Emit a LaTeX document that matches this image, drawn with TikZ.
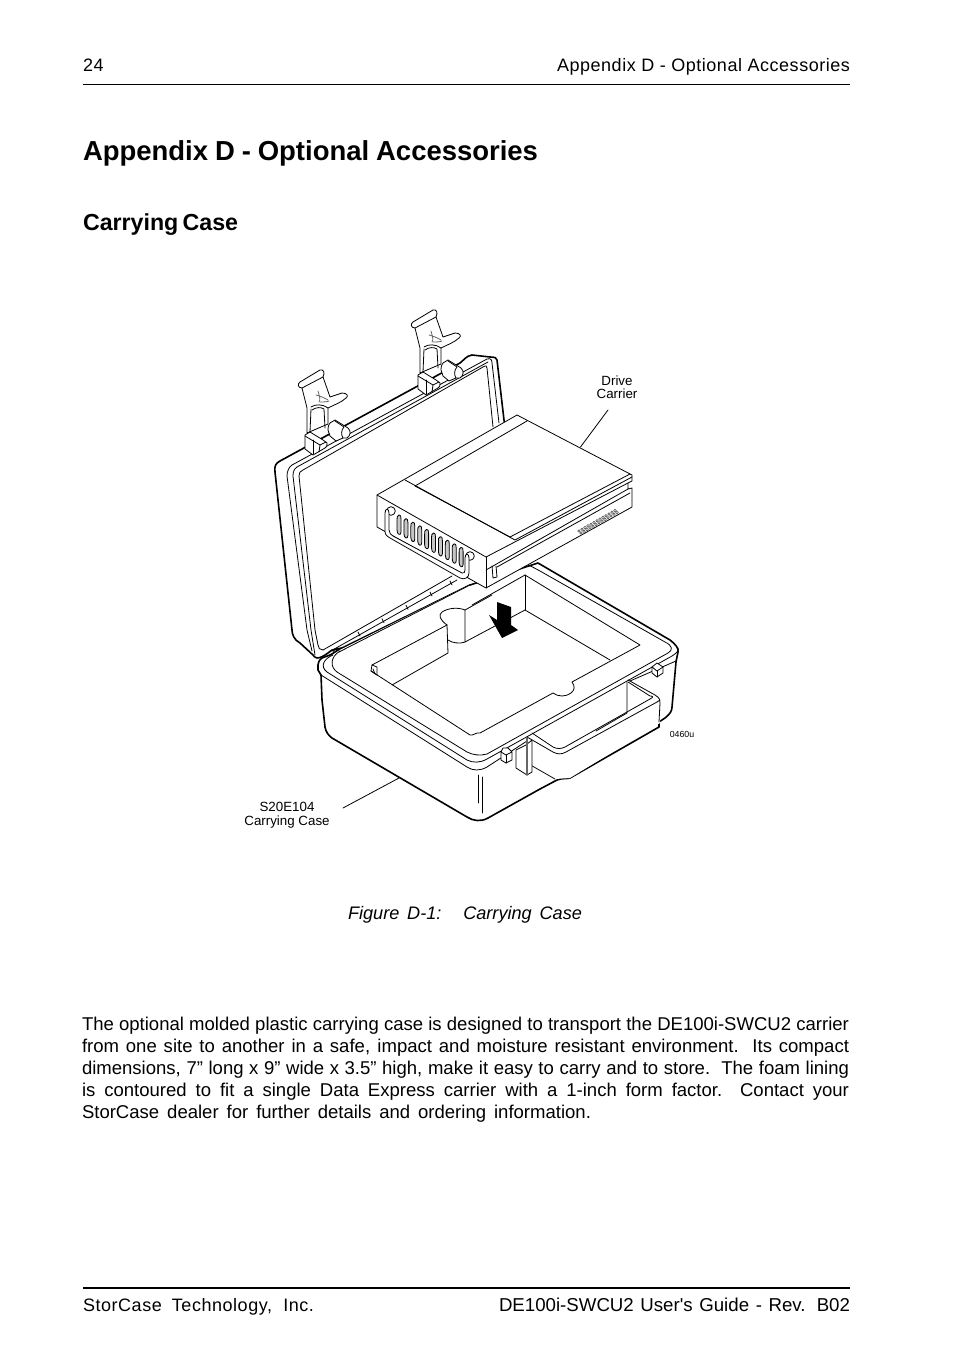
\documentclass[tikz,border=0pt]{standalone}
\usepackage{fontspec}
\setmainfont{Liberation Sans}
\newfontfamily\nomap{Liberation Sans}
\usetikzlibrary{calc}
\newcommand{\FS}[1]{\fontsize{#1}{#1}\selectfont}
\newcommand{\JL}[2]{\makebox[\dimexpr #1pt*3/4\relax][s]{#2}}
\tikzset{
  ln/.style={draw=black,line width=0.6pt,line join=round,line cap=round},
  thk/.style={draw=black,line width=1.2pt,line join=round,line cap=round},
  wf/.style={fill=white},
  txt/.style={anchor=base west,inner sep=0pt,outer sep=0pt},
  lbl/.style={anchor=base,inner sep=0pt,outer sep=0pt,font=\FS{10}},
  body/.style={txt,font=\FS{13.9}},
  head/.style={txt,font=\FS{13.5}\addfontfeatures{LetterSpace=3}},
  foot/.style={txt,font=\FS{14}},
  clipline/.pic={
    % arm and body
    \path[ln,wf] (307,433) -- (307,408) -- (302,388) .. controls (298,388) and (297,384) .. (300,382) -- (320,370) .. controls (324,369) and (325,373) .. (323,377) -- (330,397) -- (342,393) .. controls (347,393) and (349,396) .. (346,398) .. controls (342,402) and (334,405) .. (328,408) -- (328,424) -- cycle;
    \path[ln] (302,388) -- (323,377);
    \path[ln] (311,407) .. controls (315,404) and (323,404) .. (328,408);
    \path[ln] (311,409) -- (310,432);
    \path[ln] (312,410) .. controls (316,407) and (321,407) .. (324,409) -- (325,428);
    \path[ln,draw=black!60] (316,395) .. controls (320,396) and (325,398) .. (328,400);
    \path[ln,draw=black!60] (318,391) .. controls (319,395) and (321,400) .. (319,402);
    \path[ln,draw=black!60] (320,402) .. controls (323,402) and (327,402) .. (329,401);
    % knob
    \path[ln,wf] (328,430) .. controls (328,426) and (329,424) .. (330,423) -- (335,420) -- (348,428) .. controls (351,431) and (351,435) .. (347,438) -- (343,438) -- (336,441) -- (330,436) -- cycle;
    \path[ln] (335,421) -- (344,427) .. controls (341,430) and (341,435) .. (343,438);
    % base
    \path[ln,wf] (305,435) -- (310,432) -- (323,440) -- (327,443) .. controls (328,446) and (326,447) .. (325,448) -- (313,455) -- (305,449) -- cycle;
    \path[ln] (305,436) -- (320,445) -- (326,442);
    \path[ln] (320,445) -- (319,452);
    \path[ln] (313,440) -- (313,454);
  }
}
\begin{document}
\begin{tikzpicture}[x=0.75pt,y=-0.75pt]
\useasboundingbox (0,0) rectangle (954,1369);
\fill[white] (0,0) rectangle (954,1369);

% page furniture
\node[head] (pg) at (83,72) {24};
\node[head] (rh) at (557,72) {\JL{293}{Appendix D - Optional Accessories}};
\draw[line width=0.6pt] (83,84) coordinate (hrA) -- (850,84) coordinate (hrB);
\node[txt,font=\FS{20.6}\bfseries] (h1) at (83,161) {\JL{455}{Appendix D - Optional Accessories}};
\node[txt,font=\FS{17.4}\bfseries] (h2) at (83,231) {\JL{155}{Carrying Case}};
\node[txt,font=\FS{13.6}\itshape] (cap) at (348,919) {\JL{234}{Figure\ \ D-1:\hspace{1.2em}Carrying\ \ Case}};
\node[body] (b1) at (82,1030) {\JL{767}{The optional molded plastic carrying case is designed to transport the DE100i-SWCU2 carrier}};
\node[body] (b2) at (82,1052) {\JL{767}{from one site to another in a safe, impact and moisture resistant environment.\ \ Its compact}};
\node[body] (b3) at (82,1074) {\JL{767}{dimensions, 7” long x 9” wide x 3.5” high, make it easy to carry and to store.\ \ The foam lining}};
\node[body] (b4) at (82,1096) {\JL{767}{is contoured to fit a single Data Express carrier with a 1-inch form factor.\ \ Contact your}};
\node[body] (b5) at (82,1118) {\JL{509}{StorCase dealer for further details and ordering information.}};
\draw[line width=1.2pt] (83,1288) coordinate (frA) -- (850,1288) coordinate (frB);
\node[head] (fl) at (83,1311) {\JL{231}{StorCase Technology, Inc.}};
\node[foot] (fr) at (499,1311) {\JL{351}{DE100i-SWCU2 {\nomap User's} Guide - Rev. B02}};

% lid
\path[thk,wf] (332,650) -- (328,653) .. controls (324,656) and (320,658) .. (317,658) .. controls (315,658) and (314,656) .. (313,655) -- (300,643) .. controls (294,640) and (292,634) .. (292,630) -- (275,472) .. controls (274,466) and (276,463) .. (280,461) -- (460,363) .. controls (464,360) and (466,356) .. (472,355) -- (490,357) .. controls (495,357) and (497,358) .. (497,360) -- (504,420) -- (520,500) -- (480,620) -- cycle;
\path[ln] (312,651) -- (307,630) -- (287,476) .. controls (287,471) and (289,467) .. (292,465) -- (487,359) .. controls (491,358) and (492,360) .. (492,363) -- (499,423);
\path[ln] (315,655) -- (311,630) -- (293,476) .. controls (293,472) and (294,469) .. (297,467) -- (488,362);
\path[ln] (323,650) .. controls (320,650) and (318,648) .. (318,645) -- (315,630) -- (299,476) .. controls (299,473) and (300,471) .. (303,470) -- (483,367) .. controls (486,365) and (487,366) .. (487,368) -- (493,427);
\path[ln] (323,650) -- (452,576);
\path[ln] (329,652) -- (457,580);
\path[ln] (333,651) -- (338,648) -- (339,652) -- (334,655) -- cycle;
\path[ln] (339,652) -- (470,585);
\foreach \a in {358,382,406,430,450}{
  \path[ln] (\a,{632-(\a-358)*0.555}) -- (\a+2,{636-(\a-358)*0.555});
}

% latch clips
\pic {clipline};
\pic[shift={(113,-60)}] {clipline};

% case body
\path[thk,wf] (321,675) -- (322,700) -- (325,727) .. controls (326,732) and (328,735) .. (332,738) -- (467,817) .. controls (473,821) and (481,822) .. (488,818) -- (540,789) -- (557,780) .. controls (562,778) and (566,779) .. (570,778) -- (659,727) -- (659,722) -- (665,718) .. controls (670,714) and (672,711) .. (672,707) -- (676,662) -- (678,652) .. controls (679,648) and (675,644) .. (670,640) -- (538,563) -- (470,585) -- (338,650) -- (332,654) -- (330,655) -- (322,658) .. controls (319,660) and (318,663) .. (318,665) -- (318,670) -- cycle;
\path[draw=white,line width=1.5pt] (340,651) -- (470,586);
\path[ln] (339,652) -- (470,585);
% carry handle
\path[wf] (527,737) -- (553,752) -- (566,752) -- (628,680) -- (655,695) -- (660,700) -- (660,723) -- (570,778) -- (555,779) -- (527,763) -- cycle;
\path[ln] (527,737) -- (553,752) .. controls (557,754) and (561,755) .. (566,752) -- (657,702);
\path[ln] (628,680) -- (655,695) .. controls (660,698) and (660,700) .. (660,703) -- (659,722);
\path[ln] (657,702) -- (660,700);
\path[ln] (527,763) -- (555,779);
\path[ln] (532,733) -- (553,747) .. controls (557,749) and (561,749) .. (565,747) -- (650,699) .. controls (654,697) and (653,696) .. (650,696) -- (628,682);
\path[ln] (627,682) -- (627,713) -- (596,731);
% rim
\path[ln] (321,675) -- (467,767) .. controls (473,771) and (480,771) .. (487,767) -- (527,741);
\path[ln] (630,681) -- (676,661);
\path[ln] (318,670) -- (321,675);
\path[ln] (333,655) .. controls (325,658) and (319,666) .. (327,672) -- (467,760) .. controls (473,763) and (480,763) .. (487,759) -- (672,656) .. controls (677,653) and (679,650) .. (678,648);
\path[ln] (340,651) .. controls (330,657) and (330,667) .. (337,672) -- (467,752) .. controls (473,755) and (480,756) .. (487,754) -- (668,653) .. controls (673,650) and (673,646) .. (665,642) -- (540,571) -- (525,563);
% foam cut-out
\path[ln] (372,665) -- (447,625);
\path[ln] (372,665) -- (377,667) -- (377,675);
\path[ln] (371,671) -- (377,675);
\path[ln] (372,665) -- (371,671);
\path[ln] (373,669) -- (375,674);
\path[ln] (371,671) -- (470,735) .. controls (473,736) and (476,732) .. (480,733) -- (553,693) .. controls (558,697) and (566,697) .. (571,693) .. controls (575,690) and (575,686) .. (572,682) -- (640,645) -- (525,575) -- (472,605);
\path[ln] (447,625) .. controls (440,620) and (438,615) .. (442,612) .. controls (448,608) and (458,607) .. (465,610) -- (492,595);
\path[ln] (447,625) -- (448,653) -- (392,685);
\path[ln] (448,640) .. controls (452,643) and (460,644) .. (465,642);
\path[ln] (465,610) -- (465,642) -- (525,610) -- (610,660);
\path[ln] (525,575) -- (525,610);
% arrow
\fill[black] (497,602) coordinate (arA) -- (511,607) -- (511,625) -- (518,630) -- (502,638) coordinate (arB) -- (489,615) -- (497,620) -- cycle;
% strap clip
\path[ln,wf] (516,750) -- (526,745) -- (532,740) -- (532,772) -- (527,775) -- (516,768) -- cycle;
\path[ln,draw=black!60,line width=1pt] (527,738) -- (527,775);
\path[ln] (478,775) -- (478,803);
\path[ln] (482,777) -- (482,813);
% small latches
\path[ln,wf] (501,752) -- (503,748) -- (508,748) -- (512,752) -- (512,760) -- (506,763) -- (501,760) -- cycle;
\path[ln] (501,752) -- (506,755) -- (512,752);
\path[ln] (506,755) -- (506,763);
\path[ln,wf] (652,667) -- (657,663) -- (663,667) -- (663,673) -- (657,677) -- (652,673) -- cycle;
\path[ln] (652,667) -- (657,671) -- (663,667);
\path[ln] (657,671) -- (657,677);

% drive carrier
\path[ln,wf] (377,495) -- (517,415) -- (632,475) -- (632,481) -- (628,483) -- (628,489) -- (632,488) -- (632,507) -- (486,588) -- (377,527) -- cycle;
\path[ln] (377,495) -- (486,557) -- (628,483);
\path[ln] (486,557) -- (486,588);
\path[ln] (405,480) -- (515,540) -- (632,477);
\path[ln] (415,486) -- (527,421);
\path[ln] (415,486) -- (510,537) -- (630,474);
\path[ln] (486,570) -- (628,489);
\path[ln] (497,567) -- (630,493);
\path[ln] (492,566) -- (493,578) -- (497,577) -- (496,566);
% slots
\foreach \i in {0,...,9}{
  \path[ln,fill=black!22] ({399+\i*6.9},{515+\i*3.6}) .. controls ({397+\i*6.9},{515+\i*3.6}) and ({397+\i*6.9},{518+\i*3.6}) .. ({397+\i*6.9},{520+\i*3.6}) -- ({397+\i*6.9},{530+\i*3.6}) .. controls ({397+\i*6.9},{535+\i*3.6}) and ({401+\i*6.9},{536+\i*3.6}) .. ({401+\i*6.9},{532+\i*3.6}) -- ({401+\i*6.9},{519+\i*3.6}) .. controls ({401+\i*6.9},{516+\i*3.6}) and ({400.5+\i*6.9},{515+\i*3.6}) .. ({399+\i*6.9},{515+\i*3.6}) -- cycle;
}
% handle of carrier
\path[ln,wf] (391,511) circle (4.3);
\path[ln,wf] (470,556) circle (4.3);
\path[ln,wf] (385,513) .. controls (385,508) and (389,508) .. (389,513) -- (389,530) .. controls (389,533) and (391,535) .. (393,536) -- (462,573) .. controls (464,574) and (465,572) .. (465,570) -- (465,558) .. controls (465,553) and (469,553) .. (469,558) -- (469,573) .. controls (469,578) and (464,580) .. (460,578) -- (390,538) .. controls (387,536) and (385,535) .. (385,531) -- cycle;
% vent label strip
\foreach \i in {0,...,12}{
  \path[draw=black!70,line width=0.4pt] ({579+\i*3},{531-\i*1.7}) circle (1.3);
  \path[draw=black!70,line width=0.4pt] ({581+\i*3},{533-\i*1.7}) circle (1.3);
}

% labels and leaders
\node[lbl] (lD1) at (617,385) {Drive};
\node[lbl] (lD2) at (617,398) {Carrier};
\coordinate (drvTip) at (580.5,447);
\coordinate (drvEnd) at (608,410);
\draw[ln] (drvEnd) -- (drvTip);
\node[lbl] (lS1) at (287,811) {S20E104};
\node[lbl] (lS2) at (287,825) {Carrying Case};
\coordinate (csTip) at (399,778);
\coordinate (csEnd) at (343,808);
\draw[ln] (csEnd) -- (csTip);
\node[lbl,font=\FS{6.6}] (code) at (682,737) {0460u};
\end{tikzpicture}
\end{document}
